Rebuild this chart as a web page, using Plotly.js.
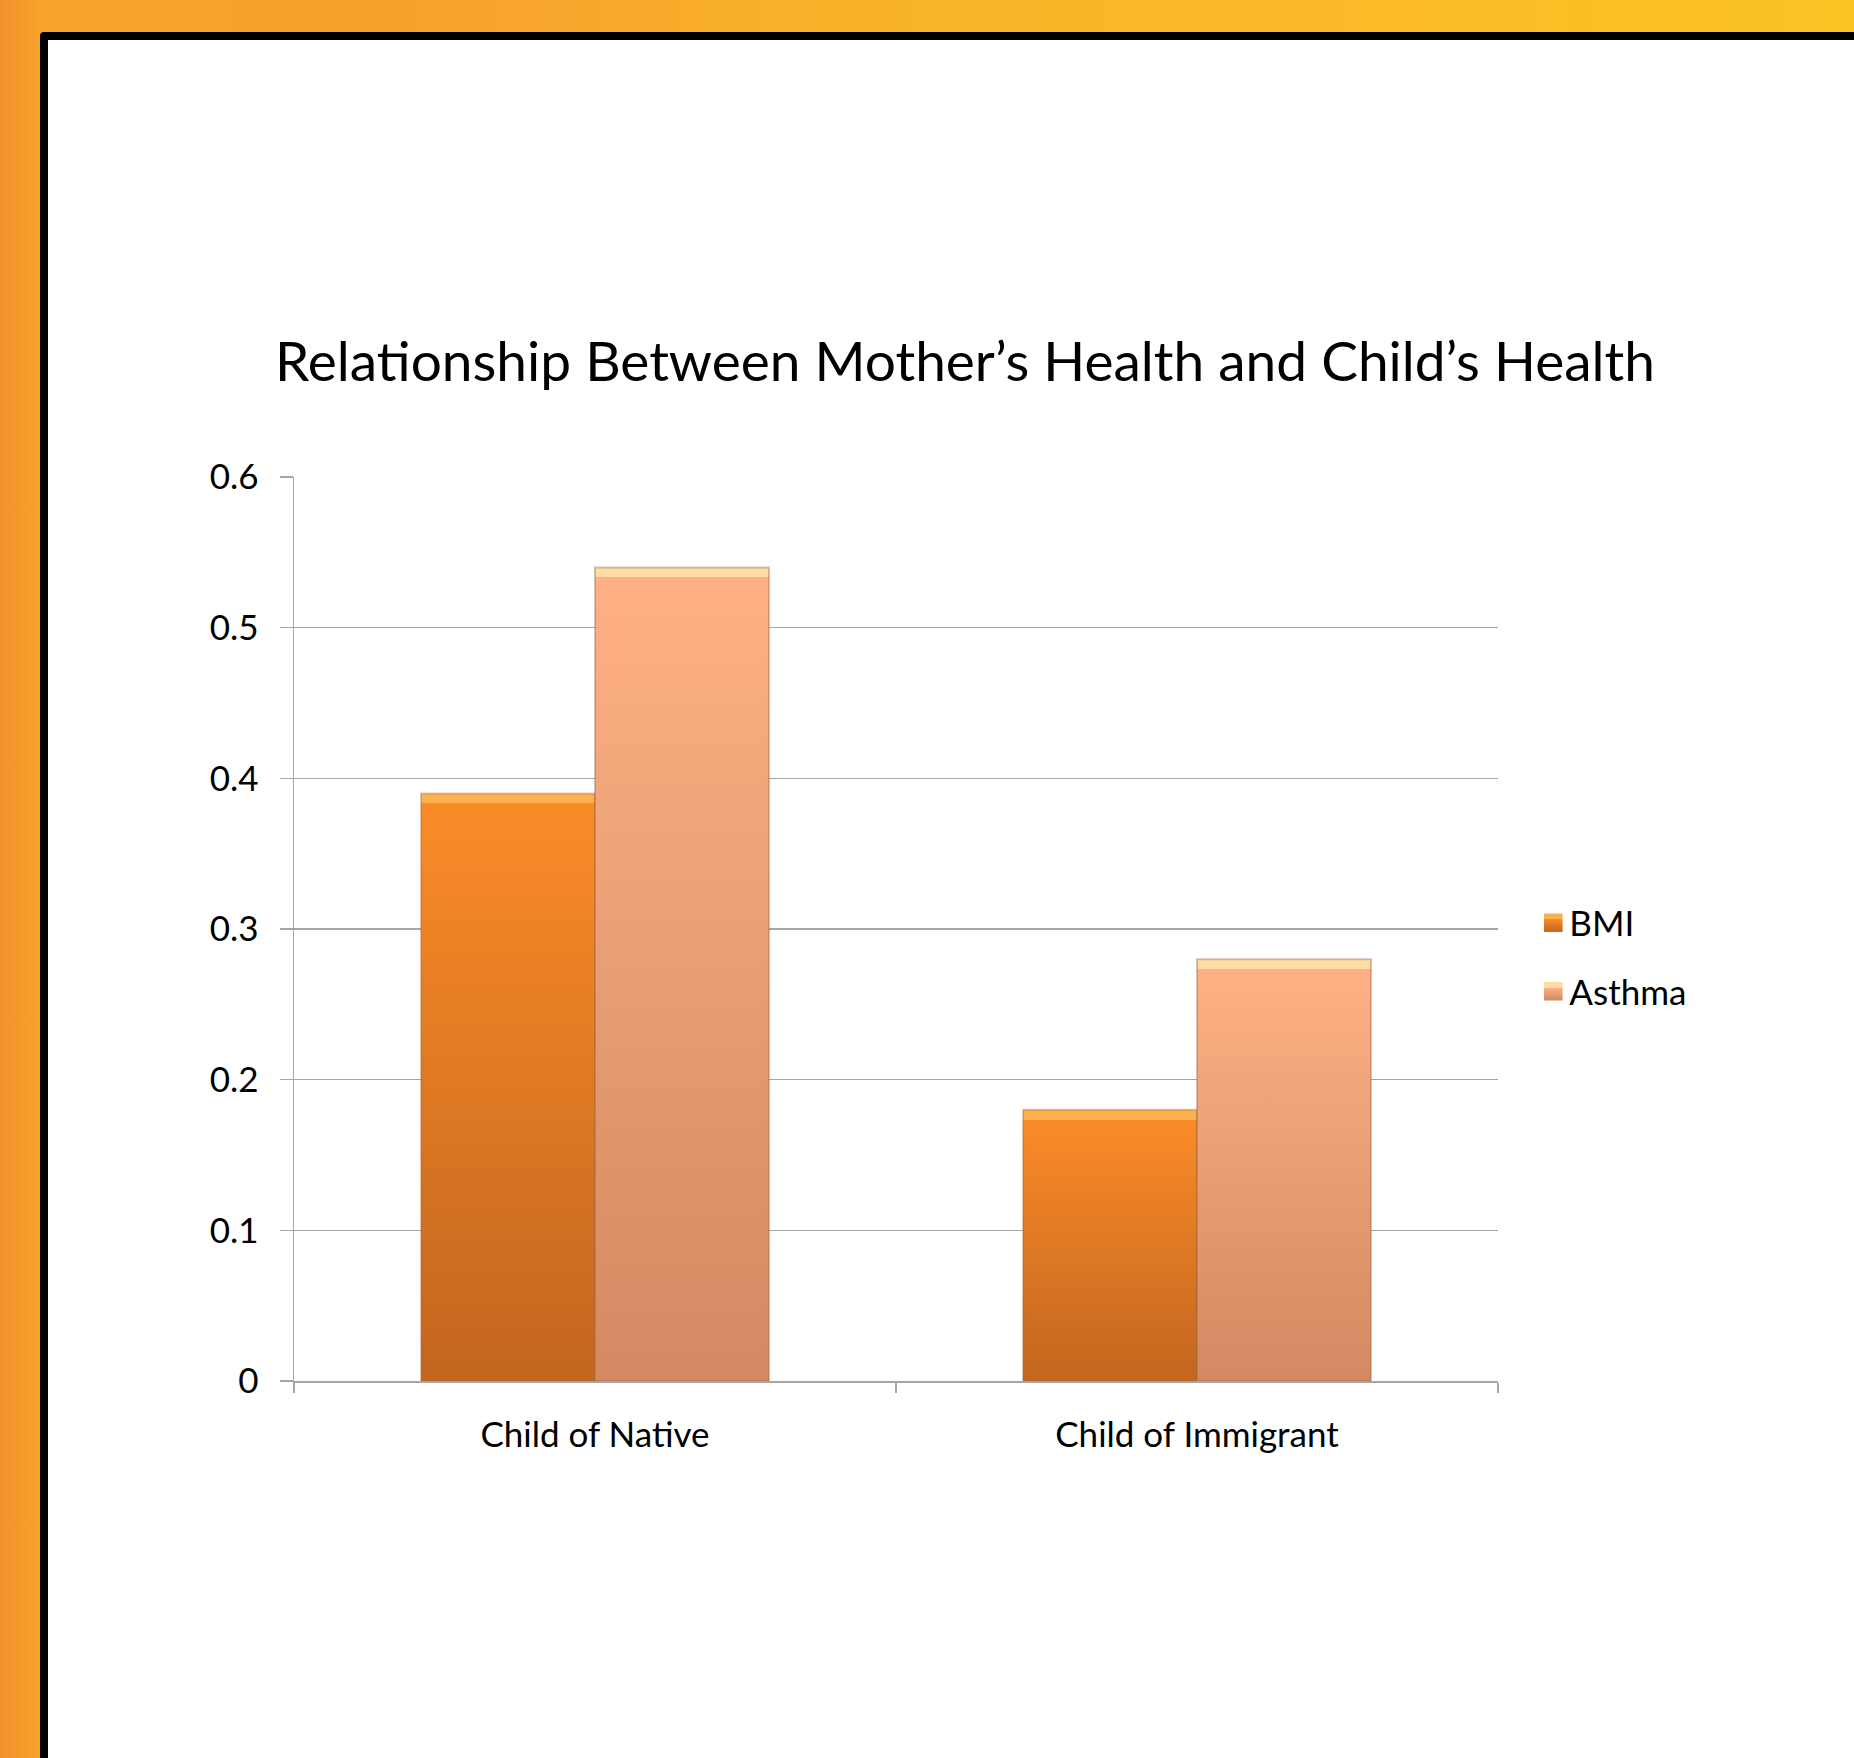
<!DOCTYPE html>
<html>
<head>
<meta charset="utf-8">
<script src="https://cdn.plot.ly/plotly-3.0.1.min.js"></script>
<style>
  html, body { margin: 0; padding: 0; }
  body {
    width: 1854px; height: 1758px; overflow: hidden; position: relative;
    background: linear-gradient(to right, #F2902E 0%, #F7A42B 2.2%, #F6A02C 20%, #F9B22A 45%, #FBC324 100%);
  }
  #frame {
    position: absolute; left: 40px; top: 32px; width: 1900px; height: 1800px;
    background: #ffffff; border: 8px solid #000; border-radius: 4px; box-sizing: border-box;
  }
  #chart { position: absolute; left: 0; top: 0; width: 1854px; height: 1758px; }
</style>
</head>
<body>
<div id="frame"></div>
<div id="chart"></div>
<script>
// Chart data
const categories = ['Child of Native', 'Child of Immigrant'];
const seriesNames = ['BMI', 'Asthma'];
const bmiValues = [0.39, 0.18];
const asthmaValues = [0.54, 0.28];
const yTickValues = [0, 0.1, 0.2, 0.3, 0.4, 0.5, 0.6];
const yTickLabels = ['0', '0.1', '0.2', '0.3', '0.4', '0.5', '0.6'];

// Bar shading: highlight band, top colour, bottom colour
const shading = {
  BMI:    { band: '#FBB14F', top: '#FA8B28', bottom: '#C2661F', edge: 'rgba(170,95,30,0.35)' },
  Asthma: { band: '#FDDCA6', top: '#FDB184', bottom: '#D38A62', edge: 'rgba(160,100,70,0.4)' }
};

const FONT = 'Lato, "Open Sans", sans-serif';

const traces = [
  { type: 'bar', name: seriesNames[0], x: categories, y: bmiValues, legendgroup: 'g1',
    marker: { color: shading.BMI.top, line: { color: shading.BMI.edge, width: 2 } } },
  { type: 'bar', name: seriesNames[1], x: categories, y: asthmaValues, legendgroup: 'g2',
    marker: { color: shading.Asthma.top, line: { color: shading.Asthma.edge, width: 2 } } }
];

const layout = {
  width: 1854, height: 1758,
  paper_bgcolor: 'rgba(0,0,0,0)', plot_bgcolor: 'rgba(0,0,0,0)',
  margin: { l: 294, r: 356, t: 477, b: 377, pad: 0 },
  font: { family: FONT, color: '#000', size: 35 },
  title: {
    text: 'Relationship Between Mother\u2019s Health and Child\u2019s Health',
    font: { family: FONT, size: 55, color: '#000' },
    xref: 'container', yref: 'container', x: 0.5205, y: 1 - 362 / 1758,
    xanchor: 'center', yanchor: 'middle'
  },
  barmode: 'group', bargap: 0.422, bargroupgap: 0,
  xaxis: {
    type: 'category', showline: true, linecolor: '#a6a6a6', linewidth: 1.5,
    ticks: 'outside', tickson: 'boundaries', ticklen: 10, tickcolor: '#a6a6a6', tickwidth: 1.5,
    showgrid: false, tickfont: { family: FONT, size: 35, color: '#000' }, ticklabelstandoff: 22
  },
  yaxis: {
    range: [0, 0.6], tickvals: yTickValues, ticktext: yTickLabels,
    showline: true, linecolor: '#a6a6a6', linewidth: 1.5,
    ticks: 'outside', ticklen: 13, tickcolor: '#a6a6a6', tickwidth: 1.5,
    showgrid: true, gridcolor: '#a6a6a6', gridwidth: 1.5, zeroline: false,
    tickfont: { family: FONT, size: 35, color: '#000' }, ticklabelstandoff: 14
  },
  showlegend: true,
  legend: {
    x: 1.026, xanchor: 'left', y: 0.469, yanchor: 'middle',
    font: { family: FONT, size: 35, color: '#000' },
    bgcolor: 'rgba(0,0,0,0)', traceorder: 'grouped', tracegroupgap: 20, itemwidth: 30
  }
};

function addShading(gd) {
  const svg = gd.querySelector('.main-svg');
  const ns = 'http://www.w3.org/2000/svg';
  let defs = svg.querySelector('defs');
  if (!defs) { defs = document.createElementNS(ns, 'defs'); svg.insertBefore(defs, svg.firstChild); }
  let n = 0;
  function makeGrad(s, band) {
    const g = document.createElementNS(ns, 'linearGradient');
    const id = 'shade' + (n++);
    g.setAttribute('id', id);
    g.setAttribute('x1', '0'); g.setAttribute('y1', '0');
    g.setAttribute('x2', '0'); g.setAttribute('y2', '1');
    const stops = [[0, s.band], [band, s.band], [band, s.top], [1, s.bottom]];
    stops.forEach(([o, c]) => {
      const st = document.createElementNS(ns, 'stop');
      st.setAttribute('offset', o); st.setAttribute('stop-color', c);
      g.appendChild(st);
    });
    defs.appendChild(g);
    return id;
  }
  const traceGroups = gd.querySelectorAll('.barlayer .trace');
  traceGroups.forEach((tg, i) => {
    const s = shading[seriesNames[i]];
    tg.querySelectorAll('.point path').forEach(p => {
      const h = p.getBBox().height || 1;
      const id = makeGrad(s, Math.min(10 / h, 0.3));
      p.style.fill = 'url(#' + id + ')';
    });
  });
  const legendItems = gd.querySelectorAll('.legend .traces');
  legendItems.forEach((li, i) => {
    const s = shading[seriesNames[i]];
    const id = makeGrad(s, 0.3);
    li.querySelectorAll('.legendpoints path').forEach(p => {
      p.style.fill = 'url(#' + id + ')';
      p.style.stroke = 'none';
      const t = p.getAttribute('transform') || '';
      p.setAttribute('transform', t + ' translate(4,0) scale(1.55)');
    });
  });
}

Plotly.newPlot('chart', traces, layout, { displayModeBar: false, staticPlot: true })
  .then(addShading);
</script>
</body>
</html>
